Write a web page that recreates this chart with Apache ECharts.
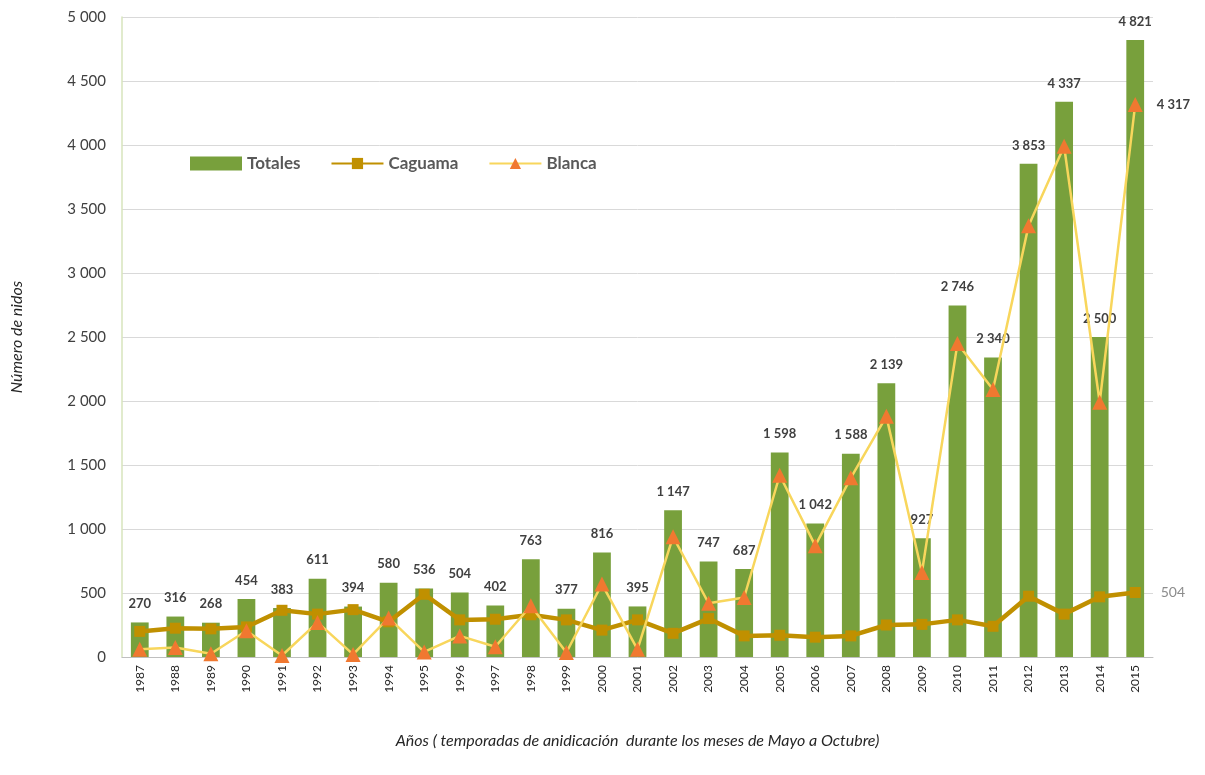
<!DOCTYPE html>
<html>
<head>
<meta charset="utf-8">
<script src="https://cdn.jsdelivr.net/npm/echarts@6/dist/echarts.min.js"></script>
<style>html,body{margin:0;padding:0;background:#fff}#c{width:1205px;height:775px}</style>
</head>
<body>
<div id="c"></div>
<script>
const years = ['1987','1988','1989','1990','1991','1992','1993','1994','1995','1996','1997','1998','1999','2000','2001','2002','2003','2004','2005','2006','2007','2008','2009','2010','2011','2012','2013','2014','2015'];
const totales = [270,316,268,454,383,611,394,580,536,504,402,763,377,816,395,1147,747,687,1598,1042,1588,2139,927,2746,2340,3853,4337,2500,4821];
const caguama = [200,225,220,235,365,335,370,275,490,290,295,330,290,210,290,185,300,165,170,155,165,250,255,290,240,475,335,470,504];
const blanca = [60,75,25,205,12,270,20,305,40,165,80,400,35,570,60,940,420,465,1420,870,1400,1880,660,2450,2090,3370,3990,1990,4317];
const yTicks = {min:0, max:5000, interval:500};

const fmt = v => { const s = String(Math.round(v)); return s.length > 3 ? s.slice(0, s.length-3) + ' ' + s.slice(-3) : s; };
const FONT = 'Lato, "Open Sans", sans-serif';

const chart = echarts.init(document.getElementById('c'));
chart.setOption({
  animation: false,
  textStyle: {fontFamily: FONT},
  grid: {left: 122, right: 52, top: 17, bottom: 118},
  legend: {
    left: 185, top: 150, itemWidth: 52, itemHeight: 14, itemGap: 30,
    textStyle: {fontSize: 17, color: '#595959', fontWeight: 'bold', fontFamily: FONT},
    data: [
      {name: 'Totales', icon: 'rect'},
      {name: 'Caguama'},
      {name: 'Blanca'}
    ]
  },
  xAxis: {
    type: 'category', data: years,
    name: 'Años ( temporadas de anidicación  durante los meses de Mayo a Octubre)',
    nameLocation: 'middle', nameGap: 76,
    nameTextStyle: {fontStyle: 'italic', fontSize: 16, color: '#262626'},
    axisLine: {lineStyle: {color: '#bfbfbf'}},
    axisTick: {show: false},
    axisLabel: {rotate: 90, fontSize: 12, color: '#262626', margin: 8, interval: 0}
  },
  yAxis: {
    type: 'value', min: yTicks.min, max: yTicks.max, interval: yTicks.interval,
    name: 'Número de nidos', nameLocation: 'middle', nameGap: 97, nameRotate: 90,
    nameTextStyle: {fontStyle: 'italic', fontSize: 16, color: '#262626'},
    axisLine: {show: true, lineStyle: {color: '#d7e4bd', width: 1.5}},
    axisTick: {show: false},
    splitLine: {lineStyle: {color: '#d9d9d9'}},
    axisLabel: {fontSize: 15, color: '#404040', margin: 16, formatter: fmt}
  },
  series: [
    {
      name: 'Totales', type: 'bar', data: totales, barWidth: '50%',
      itemStyle: {color: '#78a03c'},
      label: {show: true, position: 'top', distance: 12, fontSize: 13, fontWeight: 'bold', color: '#404040', formatter: p => fmt(p.value)},
      z: 1
    },
    {
      name: 'Caguama', type: 'line',
      data: caguama.map((v, i) => i === caguama.length - 1 ? {value: v, label: {show: true, position: 'right', distance: 20, fontSize: 14, color: '#8c8c8c', formatter: p => fmt(p.value)}} : v),
      symbol: 'rect', symbolSize: 11,
      lineStyle: {color: '#c09000', width: 4.5},
      itemStyle: {color: '#c09000'},
      z: 3
    },
    {
      name: 'Blanca', type: 'line',
      data: blanca.map((v, i) => i === blanca.length - 1 ? {value: v, label: {show: true, position: 'right', distance: 14, fontSize: 13, fontWeight: 'bold', color: '#404040', formatter: p => fmt(p.value)}} : v),
      symbol: 'triangle', symbolSize: 15,
      lineStyle: {color: '#f8d65c', width: 2.5},
      itemStyle: {color: '#f07830'},
      z: 4
    }
  ]
});
</script>
</body>
</html>
